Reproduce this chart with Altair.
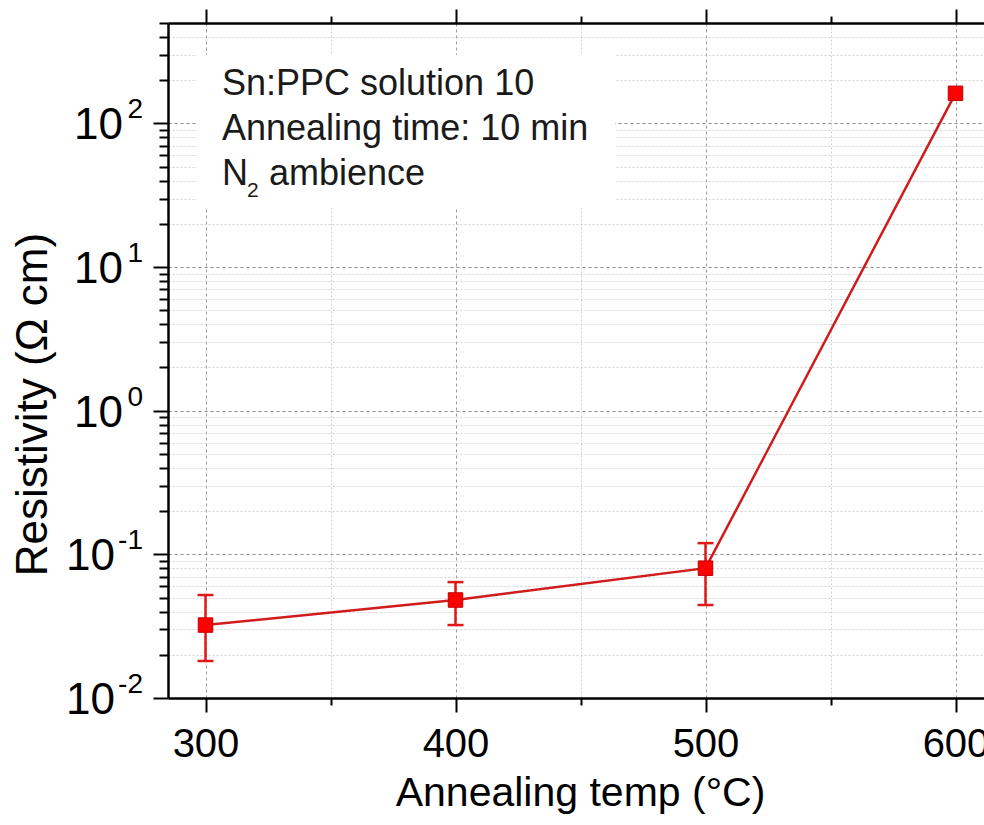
import altair as alt
import pandas as pd

# ---- data ----
temps = [300, 400, 500, 600]
resistivity = [0.0322, 0.0481, 0.0801, 162]
err_low = [0.0181, 0.0322, 0.0444, None]
err_high = [0.0521, 0.0641, 0.1197, None]

x_ticks = [300, 350, 400, 450, 500, 550, 600]
decades = [0.01, 0.1, 1, 10, 100]
exponents = ["-2", "-1", "0", "1", "2"]
mantissas = [1, 2, 3, 4, 5, 6, 7, 8, 9]
y_ticks = [round(m * d, 6) for d in decades for m in mantissas if m * d <= 500]

note_lines = ["Sn:PPC solution 10", "Annealing time: 10 min", "N", "2", "ambience"]
x_title = "Annealing temp (°C)"
y_title = "Resistivity (Ω cm)"

df = pd.DataFrame({"t": temps, "r": resistivity, "lo": err_low, "hi": err_high})
dec_df = pd.DataFrame({"v": decades, "e": exponents, "neg": [e.startswith("-") for e in exponents]})
one = pd.DataFrame({"a": [0]})

FONT = "Liberation Sans"
xscale = alt.Scale(domain=[285, 611.4], nice=False, zero=False)
yscale = alt.Scale(type="log", domain=[0.01, 500], nice=False)

major_y = "abs(log(datum.value)/LN10 - round(log(datum.value)/LN10)) < 0.001"
major_x = "datum.value % 100 == 0"

x_bottom = alt.Axis(
    orient="bottom", values=x_ticks, title=x_title,
    labelExpr="datum.value % 100 == 0 ? datum.label : ''",
    labelFontSize=40, labelPadding=12, labelFont=FONT,
    tickSize={"condition": {"test": major_x, "value": 14}, "value": 7},
    grid=True,
    gridColor={"condition": {"test": major_x, "value": "#9a9a9a"}, "value": "#d2d2d2"},
    gridDash={"condition": {"test": major_x, "value": [3, 3]}, "value": [2, 2]},
    titleFontSize=41, titleFontWeight="normal", titleFont=FONT,
    titleX=412, titleY=107, titleBaseline="alphabetic", titleAlign="center",
)
x_top = alt.Axis(
    orient="top", values=x_ticks, title=None, labels=False, grid=False,
    tickSize={"condition": {"test": major_x, "value": 14}, "value": 7},
)
y_left = alt.Axis(
    orient="left", values=y_ticks, labels=False, title=y_title,
    tickSize={"condition": {"test": major_y, "value": 15}, "value": 9},
    grid=True,
    gridColor={"condition": {"test": major_y, "value": "#8a8a8a"}, "value": "#d2d2d2"},
    gridDash={"condition": {"test": major_y, "value": [3, 3]}, "value": [2, 2]},
    titleFontSize=44, titleFontWeight="normal", titleFont=FONT,
    titleX=-122, titleY=381, titleBaseline="alphabetic", titleAlign="center",
    titleAngle=270,
)

base = alt.Chart(df)

box = alt.Chart(one).mark_rect(fill="white", stroke=None).encode(
    x=alt.value(29), x2=alt.value(447), y=alt.value(32), y2=alt.value(185)
)

line = base.mark_line(color="#d01c1c", strokeWidth=2.5).encode(
    x=alt.X("t:Q", scale=xscale, axis=x_bottom),
    y=alt.Y("r:Q", scale=yscale, axis=y_left),
)

errs = base.transform_filter("isValid(datum.lo)").mark_rule(color="#e01818", strokeWidth=2.5).encode(
    x=alt.X("t:Q", scale=xscale, axis=None),
    y=alt.Y("lo:Q", scale=yscale, axis=None),
    y2="hi:Q",
)
cap_lo = base.transform_filter("isValid(datum.lo)").mark_tick(
    orient="horizontal", size=16, thickness=2.5, color="#e01818", opacity=1
).encode(
    x=alt.X("t:Q", scale=xscale, axis=None),
    y=alt.Y("lo:Q", scale=yscale, axis=None),
)
cap_hi = base.transform_filter("isValid(datum.hi)").mark_tick(
    orient="horizontal", size=16, thickness=2.5, color="#e01818", opacity=1
).encode(
    x=alt.X("t:Q", scale=xscale, axis=None),
    y=alt.Y("hi:Q", scale=yscale, axis=None),
)

points = base.mark_point(
    shape="square", filled=True, fill="#ff0000", stroke="#c00000", strokeWidth=1, size=210, opacity=1
).encode(
    x=alt.X("t:Q", scale=xscale, axis=x_top),
    y=alt.Y("r:Q", scale=yscale, axis=None),
)

def ylab(neg, base_x):
    src = alt.Chart(dec_df).transform_filter(f"datum.neg == {'true' if neg else 'false'}")
    ten = src.mark_text(
        align="right", baseline="alphabetic", dy=16, fontSize=44, font=FONT, color="black"
    ).encode(x=alt.value(base_x), y=alt.Y("v:Q", scale=yscale, axis=None), text=alt.value("10"))
    ex = src.mark_text(
        align="right", baseline="alphabetic", dy=-5, fontSize=28, font=FONT, color="black"
    ).encode(x=alt.value(-25), y=alt.Y("v:Q", scale=yscale, axis=None), text="e:N")
    return ten + ex

def note(txt, x, y, size=36):
    return alt.Chart(one).mark_text(
        align="left", baseline="alphabetic", fontSize=size, font=FONT, color="#1a1a1a"
    ).encode(x=alt.value(x), y=alt.value(y), text=alt.value(txt))

notes = (
    note(note_lines[0], 54, 72)
    + note(note_lines[1], 54, 117)
    + note(note_lines[2], 54, 162)
    + note(note_lines[3], 79, 174, 21)
    + note(note_lines[4], 101, 162)
)

chart = (
    alt.layer(box, line, errs, cap_lo, cap_hi, points, ylab(False, -45), ylab(True, -53), notes)
    .resolve_axis(x="independent", y="independent")
    .properties(
        width=816, height=675,
        background="white",
        autosize=alt.AutoSizeParams(type="none"),
        padding={"left": 168, "top": 23, "right": 0, "bottom": 127},
    )
    .configure_view(strokeWidth=0)
    .configure_axis(
        domainColor="black", domainWidth=2.5, tickColor="black", tickWidth=2,
        labelFont=FONT, titleFont=FONT, labelColor="black", titleColor="black",
        titleFontWeight="normal",
    )
)

chart.save("out.html", embed_options={"renderer": "svg", "actions": False})
